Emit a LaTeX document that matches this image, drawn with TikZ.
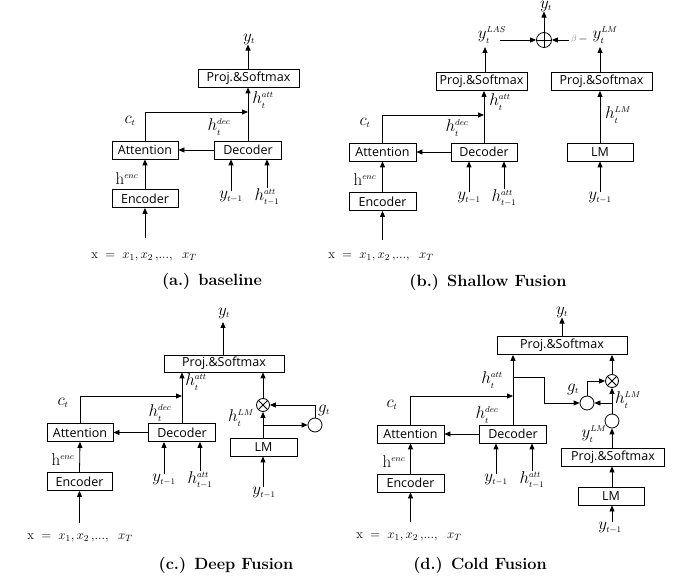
\RequirePackage{fix-cm}
\documentclass[tikz,border=0pt]{standalone}
\usepackage{fontspec}
\newfontfamily\boxfont{Open Sans}
\usetikzlibrary{arrows.meta}
\newcommand{\hsp}[2]{h_{\scriptscriptstyle #1}^{\scriptscriptstyle #2}}
\newcommand{\ysp}[2]{y_{\scriptscriptstyle #1}^{\scriptscriptstyle #2}}
\newcommand{\tny}[1]{{\scriptscriptstyle #1}}
\newcommand{\xseq}{$\mathrm{x}\;=\;x_1, x_2\,,\!...,\;\;x_T$}
\begin{document}
\begin{tikzpicture}[x=1pt,y=-1pt,
  box/.style={draw, line width=0.8pt, minimum height=18pt, inner sep=0pt, font=\boxfont\fontsize{12.5}{14}\selectfont},
  arr/.style={-{Triangle[length=6pt,width=5pt]}, line width=0.8pt},
  ln/.style={line width=0.8pt},
  lab/.style={inner sep=0pt, font=\fontsize{17}{19}\selectfont},
  xlab/.style={inner sep=0pt, font=\fontsize{13}{15}\selectfont},
  captext/.style={inner sep=0pt, font=\bfseries\fontsize{16.3}{18}\selectfont},
  circ/.style={draw, circle, line width=0.8pt, minimum size=14pt, inner sep=0pt},
]
\useasboundingbox (0,0) rectangle (678,577);

% ================= (a) baseline =================
\node[box, minimum width=101pt] (pa) at (248.5,78) {Proj.\&Softmax};
\node[box, minimum width=66pt] (atta) at (145,150) {Attention};
\node[box, minimum width=67pt] (deca) at (248,150) {Decoder};
\node[box, minimum width=66pt] (enca) at (145,198.5) {Encoder};
\node[lab] (yta) at (249,39) {$y_\tny{t}$};
\node[lab] (hatta) at (263,100) {$\hsp{t}{att}$};
\node[lab] (cta) at (130,121) {$c_\tny{t}$};
\node[lab] (hdeca) at (219,127) {$\hsp{t}{dec}$};
\node[lab] (henca) at (127,179) {$\mathrm{h}^{\tny{enc}}$};
\node[lab] (ym1a) at (231,197) {$y_\tny{t-1}$};
\node[lab] (hm1a) at (267,197) {$\hsp{t-1}{att}$};
\node[xlab] (xa) at (144,257) {\xseq};
\node[captext] (capa) at (212,281) {(a.) baseline};
\coordinate (xina) at (145,238);
\coordinate (cja) at (248,112);
\draw[arr] (pa.north -| deca.north) -- (yta.south -| deca.north);
\draw[arr] (deca.north) -- (pa.south -| deca.north);
\draw[arr] (atta.north) |- (cja);
\draw[arr] (deca.west) -- (atta.east);
\draw[arr] (enca.north) -- (atta.south);
\draw[arr] (xina) -- (enca.south);
\draw[arr] (ym1a.north) -- (ym1a.north |- deca.south);
\draw[arr] (hm1a.north) -- (hm1a.north |- deca.south);

% ================= (b) shallow fusion =================
\node[box, minimum width=91pt] (plb) at (481.5,81.5) {Proj.\&Softmax};
\node[box, minimum width=101pt] (prb) at (601.5,81.5) {Proj.\&Softmax};
\node[box, minimum width=67pt] (attb) at (382.5,152) {Attention};
\node[box, minimum width=66pt] (decb) at (484,152) {Decoder};
\node[box, minimum width=67pt] (encb) at (382.5,201.5) {Encoder};
\node[box, minimum width=66pt] (lmb) at (600,152) {LM};
\node[circ, minimum size=15pt] (plus) at (544,40) {};
\draw[ln] (plus.north) -- (plus.south) (plus.west) -- (plus.east);
\node[lab] (ytb) at (546,6) {$y_\tny{t}$};
\node[lab] (ylas) at (492,35) {$\ysp{t}{LAS}$};
\node[inner sep=0pt, text=gray, font=\fontsize{9}{10}\selectfont] (beta) at (574,39) {$\beta$};
\node[inner sep=0pt, font=\fontsize{12}{14}\selectfont] (minus) at (583,40) {$-$};
\node[lab] (ylmb) at (605,35) {$\ysp{t}{LM}$};
\node[lab] (hattb) at (500,102) {$\hsp{t}{att}$};
\node[lab] (ctb) at (365,123) {$c_\tny{t}$};
\node[lab] (hdecb) at (457,128) {$\hsp{t}{dec}$};
\node[lab] (hlmb) at (618,115) {$\hsp{t}{LM}$};
\node[lab] (hencb) at (365,180) {$\mathrm{h}^{\tny{enc}}$};
\node[lab] (ym1b) at (469,198) {$y_\tny{t-1}$};
\node[lab] (hm1b) at (504,198) {$\hsp{t-1}{att}$};
\node[lab] (ym2b) at (600,198) {$y_\tny{t-1}$};
\node[xlab] (xb) at (381,257) {\xseq};
\node[captext] (capb) at (488,282) {(b.) Shallow Fusion};
\coordinate (xinb) at (382.5,240);
\coordinate (cjb) at (484,115);
\coordinate (lasout) at (500,40);
\coordinate (betain) at (569,40);
\coordinate (lasin) at (485,47);
\coordinate (lmin) at (600,47);
\draw[arr] (plus.north) -- (ytb.south -| plus.north);
\draw[arr] (lasout) -- (plus.west);
\draw[arr] (betain) -- (plus.east);
\draw[arr] (plb.north -| lasin) -- (lasin);
\draw[arr] (prb.north -| lmin) -- (lmin);
\draw[arr] (decb.north) -- (decb.north |- plb.south);
\draw[arr] (attb.north) |- (cjb);
\draw[arr] (decb.west) -- (attb.east);
\draw[arr] (encb.north) -- (attb.south);
\draw[arr] (lmb.north) -- (lmb.north |- prb.south);
\draw[arr] (xinb) -- (encb.south);
\draw[arr] (ym1b.north) -- (ym1b.north |- decb.south);
\draw[arr] (hm1b.north) -- (hm1b.north |- decb.south);
\draw[arr] (ym2b.north) -- (ym2b.north |- lmb.south);

% ================= (c) deep fusion =================
\node[box, minimum width=120pt, minimum height=17pt] (pc) at (224,363.5) {Proj.\&Softmax};
\node[box, minimum width=66pt] (attc) at (80,432.5) {Attention};
\node[box, minimum width=67pt] (decc) at (182,432.5) {Decoder};
\node[box, minimum width=65pt] (encc) at (79.5,481.5) {Encoder};
\node[box, minimum width=67pt] (lmc) at (263.5,447) {LM};
\node[circ, minimum size=13pt] (otc) at (263,405) {};
\draw[ln] (otc.north west) -- (otc.south east) (otc.north east) -- (otc.south west);
\node[circ] (gc) at (315,425) {};
\node[lab] (ytc) at (224,313) {$y_\tny{t}$};
\node[lab] (hattc) at (196,382) {$\hsp{t}{att}$};
\node[lab] (ctc) at (63,403) {$c_\tny{t}$};
\node[lab] (hdecc) at (160,413) {$\hsp{t}{dec}$};
\node[lab] (hencc) at (63,460) {$\mathrm{h}^{\tny{enc}}$};
\node[lab] (hlmc) at (241,418) {$\hsp{t}{LM}$};
\node[lab] (gtc) at (324,410) {$g_\tny{t}$};
\node[lab] (ym1c) at (164,480) {$y_\tny{t-1}$};
\node[lab] (hm1c) at (200,480) {$\hsp{t-1}{att}$};
\node[lab] (ym2c) at (264,493) {$y_\tny{t-1}$};
\node[xlab] (xc) at (80,538) {\xseq};
\node[captext] (capc) at (226,565) {(c.) Deep Fusion};
\coordinate (xinc) at (79.5,523);
\coordinate (cjc) at (182,396);
\coordinate (brc) at (263,425);
\coordinate (ytcin) at (223,322);
\draw[arr] (pc.north -| ytcin) -- (ytcin);
\draw[arr] (decc.north) -- (decc.north |- pc.south);
\draw[arr] (attc.north) |- (cjc);
\draw[arr] (decc.west) -- (attc.east);
\draw[arr] (encc.north) -- (attc.south);
\draw[arr] (otc.north) -- (otc.north |- pc.south);
\draw[arr] (lmc.north -| otc.south) -- (otc.south);
\draw[arr] (brc) -- (gc.west);
\draw[arr] (gc.north) |- (otc.east);
\draw[arr] (ym2c.north -| otc.south) -- (lmc.south -| otc.south);
\draw[arr] (xinc) -- (encc.south);
\draw[arr] (ym1c.north) -- (ym1c.north |- decc.south);
\draw[arr] (hm1c.north) -- (hm1c.north |- decc.south);

% ================= (d) cold fusion =================
\node[box, minimum width=130pt] (pd) at (562,345.5) {Proj.\&Softmax};
\node[box, minimum width=103pt] (p2d) at (613,457) {Proj.\&Softmax};
\node[box, minimum width=67pt] (attd) at (410.5,434) {Attention};
\node[box, minimum width=67pt] (decd) at (513,434) {Decoder};
\node[box, minimum width=67pt] (encd) at (410.5,483) {Encoder};
\node[box, minimum width=66pt] (lmd) at (611,496) {LM};
\node[circ, minimum size=13pt] (otd) at (612,381) {};
\draw[ln] (otd.north west) -- (otd.south east) (otd.north east) -- (otd.south west);
\node[circ] (gd) at (587,403) {};
\node[circ] (sd) at (612,421) {};
\node[lab] (ytd) at (562,312) {$y_\tny{t}$};
\node[lab] (hattd) at (492,380) {$\hsp{t}{att}$};
\node[lab] (ctd) at (392,405) {$c_\tny{t}$};
\node[lab] (hdecd) at (487,415) {$\hsp{t}{dec}$};
\node[lab] (hencd) at (394,462) {$\mathrm{h}^{\tny{enc}}$};
\node[lab] (gtd) at (573,389) {$g_\tny{t}$};
\node[lab] (hlmd) at (628,400) {$\hsp{t}{LM}$};
\node[lab] (ylmd) at (594,434) {$\ysp{t}{LM}$};
\node[lab] (ym1d) at (496,480) {$y_\tny{t-1}$};
\node[lab] (hm1d) at (532,480) {$\hsp{t-1}{att}$};
\node[lab] (ym2d) at (610,528) {$y_\tny{t-1}$};
\node[xlab] (xd) at (409,537) {\xseq};
\node[captext] (capd) at (480,565) {(d.) Cold Fusion};
\coordinate (xind) at (410.5,522);
\coordinate (cjd) at (513,396);
\coordinate (brd) at (513,377);
\coordinate (mid) at (612,403);
\draw[arr] (pd.north) -- (ytd.south -| pd.north);
\draw[arr] (decd.north) -- (decd.north |- pd.south);
\draw[arr] (attd.north) |- (cjd);
\draw[arr] (decd.west) -- (attd.east);
\draw[arr] (encd.north) -- (attd.south);
\draw[arr] (brd) -- ++(31,0) |- (gd.west);
\draw[arr] (gd.north) |- (otd.west);
\draw[arr] (mid) -- (gd.east);
\draw[arr] (sd.north) -- (otd.south);
\draw[arr] (otd.north) -- (otd.north |- pd.south);
\draw[arr] (p2d.north -| sd.south) -- (sd.south);
\draw[arr] (lmd.north -| sd.south) -- (p2d.south -| sd.south);
\draw[arr] (ym2d.north -| sd.south) -- (lmd.south -| sd.south);
\draw[arr] (xind) -- (encd.south);
\draw[arr] (ym1d.north) -- (ym1d.north |- decd.south);
\draw[arr] (hm1d.north) -- (hm1d.north |- decd.south);
\end{tikzpicture}
\end{document}
